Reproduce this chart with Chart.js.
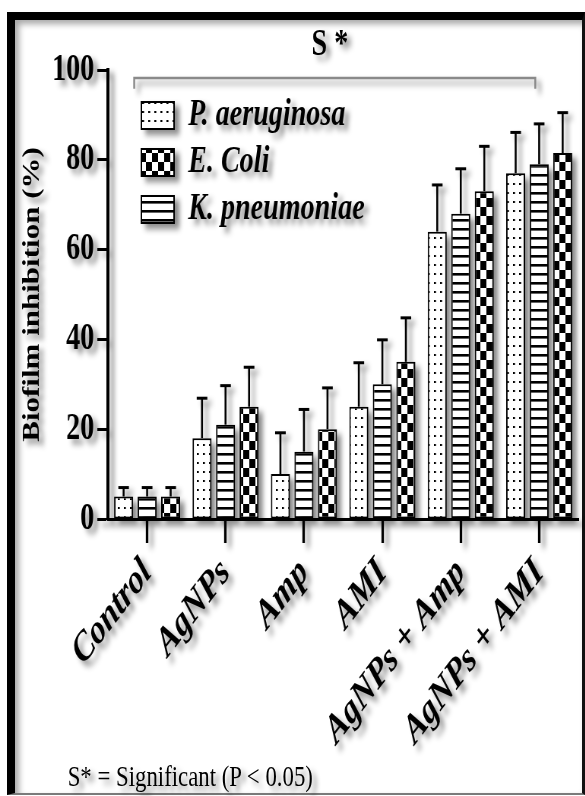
<!DOCTYPE html>
<html>
<head>
<meta charset="utf-8">
<script src="https://cdn.jsdelivr.net/npm/chart.js@4.4.1/dist/chart.umd.min.js"></script>
<style>
  html, body { margin: 0; padding: 0; background: #fff; }
  body { width: 585px; height: 796px; position: relative; overflow: hidden; }
  #frame {
    position: absolute; left: 7px; top: 12px; width: 567px; height: 773px;
    border-left: 8px solid #000; border-top: 8px solid #000;
    border-right: 3px solid #111; border-bottom: 2px solid #7a7a7a;
    box-shadow: inset 4px 4px 6px rgba(0, 0, 0, 0.35);
  }
  /* the figure is horizontally squeezed, so draw it wider and compress */
  #wrap {
    position: absolute; left: 0; top: 0; width: 770px; height: 796px;
    transform: scaleX(0.76); transform-origin: 0 0;
    filter: drop-shadow(6px 5px 3px rgba(0, 0, 0, 0.45));
  }
  #sig {
    position: absolute; left: 334px; top: 24px; width: 200px; text-align: center;
    font: bold 37px/37px 'Liberation Serif', serif; color: #000;
  }
  #note {
    position: absolute; left: 89px; top: 761px; white-space: nowrap;
    font: 30px/30px 'Liberation Serif', serif; color: #000;
  }
</style>
</head>
<body>
<div id="frame"></div>
<div id="wrap">
  <canvas id="c" width="770" height="796"></canvas>
  <div id="sig">S *</div>
  <div id="note">S* = Significant (P &lt; 0.05)</div>
</div>
<script>
// categories and series
const categories = ['Control', 'AgNPs', 'Amp', 'AMI', 'AgNPs + Amp', 'AgNPs + AMI'];
const seriesNames = ['P. aeruginosa', 'K. pneumoniae', 'E. Coli'];
const paMean = [5, 18, 10, 25, 64, 77];
const paErr = [2, 8.9, 9.2, 9.8, 10.4, 9.1];
const kpMean = [5, 21, 15, 30, 68, 79];
const kpErr = [2, 8.7, 9.4, 9.9, 10, 9];
const ecMean = [5, 25, 20, 35, 73, 81.5];
const ecErr = [2, 8.8, 9.2, 9.8, 10, 9];
const yTicks = [0, 20, 40, 60, 80, 100];
// legend shows P, E, K
const legendOrder = [0, 2, 1];

const canvas = document.getElementById('c');
const ctx = canvas.getContext('2d');

// fill patterns
function makePattern(w, h, draw) {
  const t = document.createElement('canvas');
  t.width = w; t.height = h;
  const g = t.getContext('2d');
  g.fillStyle = '#fff';
  g.fillRect(0, 0, w, h);
  g.fillStyle = '#000';
  draw(g);
  return ctx.createPattern(t, 'repeat');
}
const dots = makePattern(8, 9, g => g.fillRect(3, 3, 2.6, 2));
const stripes = makePattern(8, 9, g => g.fillRect(0, 3, 8, 2.6));
const checker = makePattern(16, 18, g => { g.fillRect(0, 0, 8, 9); g.fillRect(8, 9, 8, 9); });

const means = [paMean, kpMean, ecMean];
const errs = [paErr, kpErr, ecErr];
const fills = [dots, stripes, checker];

const serif = 'Liberation Serif';

// error bars + significance bracket
const errorBars = {
  id: 'errorBars',
  afterDatasetsDraw(chart) {
    const c = chart.ctx;
    const y = chart.scales.y;
    const x = chart.scales.x;
    c.save();
    c.strokeStyle = '#000';
    chart.data.datasets.forEach((ds, i) => {
      chart.getDatasetMeta(i).data.forEach((bar, j) => {
        const top = y.getPixelForValue(means[i][j] + errs[i][j]);
        c.lineWidth = 2.6;
        c.beginPath(); c.moveTo(bar.x, bar.y); c.lineTo(bar.x, top); c.stroke();
        c.lineWidth = 3;
        c.beginPath(); c.moveTo(bar.x - 7, top); c.lineTo(bar.x + 7, top); c.stroke();
      });
    });
    const cw = x.getPixelForValue(1) - x.getPixelForValue(0);
    const xl = x.getPixelForValue(0) - 0.165 * cw;
    const xr = x.getPixelForValue(categories.length - 1) - 0.05 * cw;
    const yl = y.getPixelForValue(98.2);
    const yd = y.getPixelForValue(95.8);
    c.strokeStyle = '#8a8a8a';
    c.lineWidth = 2.5;
    c.beginPath();
    c.moveTo(xl, yd); c.lineTo(xl, yl); c.lineTo(xr, yl); c.lineTo(xr, yd);
    c.stroke();
    c.restore();
  }
};

// put the legend inside the plot, upper left
const legendPlace = {
  id: 'legendPlace',
  afterLayout(chart) {
    const lg = chart.legend, a = chart.chartArea;
    lg.left = a.left + 34;
    lg.top = a.top + 17;
    lg.right = a.right;
    lg.bottom = a.bottom;
  }
};

new Chart(ctx, {
  type: 'bar',
  data: {
    labels: categories,
    datasets: seriesNames.map((name, i) => ({
      label: name,
      data: means[i],
      backgroundColor: fills[i],
      borderColor: '#000',
      borderWidth: 2,
      borderSkipped: false,
      categoryPercentage: 0.9,
      barPercentage: 0.81
    }))
  },
  options: {
    responsive: false,
    animation: false,
    events: [],
    layout: { padding: { left: 24, right: 9, top: 70, bottom: 20 } },
    plugins: {
      tooltip: { enabled: false },
      legend: {
        position: 'chartArea',
        align: 'start',
        labels: {
          boxWidth: 43,
          boxHeight: 27,
          padding: 10,
          color: '#000',
          font: { family: serif, size: 37, weight: 'bold', style: 'italic' },
          sort: (a, b) => legendOrder.indexOf(a.datasetIndex) - legendOrder.indexOf(b.datasetIndex)
        }
      }
    },
    scales: {
      x: {
        grid: { drawOnChartArea: false, offset: false, tickLength: 24, tickWidth: 3.3, tickColor: '#000' },
        border: { color: '#000', width: 3 },
        ticks: {
          color: '#000',
          autoSkip: false,
          maxRotation: 45,
          minRotation: 45,
          padding: 6,
          font: { family: serif, size: 41, weight: 'bold', style: 'italic' }
        },
        afterFit(s) { s.height = 257; }
      },
      y: {
        min: 0,
        max: 100,
        afterBuildTicks(s) { s.ticks = yTicks.map(v => ({ value: v })); },
        grid: { drawOnChartArea: false, tickLength: 14, tickWidth: 3, tickColor: '#000' },
        border: { color: '#000', width: 4 },
        ticks: { color: '#000', padding: 4, font: { family: serif, size: 37, weight: 'bold' } },
        title: {
          display: true,
          text: 'Biofilm inhibition (%)',
          color: '#000',
          padding: 0,
          font: { family: serif, size: 31, weight: 'bold' }
        },
        afterFit(s) { s.width = 118; }
      }
    }
  },
  plugins: [errorBars, legendPlace]
});
</script>
</body>
</html>
